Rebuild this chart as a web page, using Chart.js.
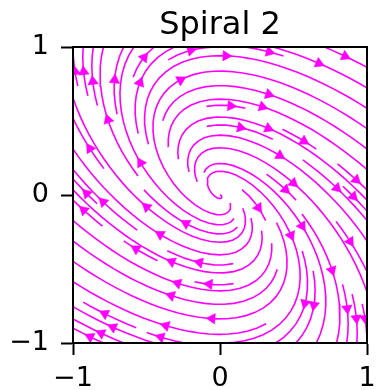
<!DOCTYPE html>
<html>
<head>
<meta charset="utf-8">
<script src="https://cdn.jsdelivr.net/npm/chart.js@4.4.1/dist/chart.umd.min.js"></script>
<style>
  html, body { margin: 0; padding: 0; background: #fff; }
  #wrap { width: 376px; height: 390px; }
</style>
</head>
<body>
<div id="wrap"><canvas id="chart" width="376" height="390"></canvas></div>
<script>
// Phase portrait "Spiral 2": dx/dt = x + y, dy/dt = -x  (streamplot style)
const titleText = 'Spiral 2';
const fieldMatrix = [[1, 1], [-1, 0]];
const xLimits = [-1, 1];
const yLimits = [-1, 1];
const tickValues = [-1, 0, 1];
const lineColor = '#ff00ff';

// streamplot settings (matplotlib defaults)
const density = 1;
const minLength = 0.1;
const maxLength = 4.0;

const spanX = xLimits[1] - xLimits[0];
const spanY = yLimits[1] - yLimits[0];

function velocity(x, y) {
    return [
        fieldMatrix[0][0] * x + fieldMatrix[0][1] * y,
        fieldMatrix[1][0] * x + fieldMatrix[1][1] * y
    ];
}

function within(ax, ay) {
    return ax >= 0 && ax <= 1 && ay >= 0 && ay <= 1;
}

// unit-speed direction in axes coordinates
function forward(ax, ay) {
    if (!within(ax, ay)) throw 'out';
    const v = velocity(xLimits[0] + ax * spanX, yLimits[0] + ay * spanY);
    const ua = v[0] / spanX, va = v[1] / spanY;
    const sp = Math.hypot(ua, va);
    if (sp === 0) throw 'term';
    return [ua / sp, va / sp];
}

// occupancy mask
const NX = Math.floor(30 * density), NY = NX;
const mask = new Uint8Array(NX * NY);
let currentXY = null;
let traj = [];

function roundHalfEven(v) {
    const r = Math.round(v);
    return (Math.abs(v % 1) === 0.5 && r % 2 !== 0) ? r - 1 : r;
}
function grid2mask(ax, ay) {
    return [roundHalfEven(ax * (NX - 1)), roundHalfEven(ay * (NY - 1))];
}
function maskUpdate(xm, ym) {
    if (!currentXY || currentXY[0] !== xm || currentXY[1] !== ym) {
        if (mask[ym * NX + xm] === 0) {
            traj.push(ym * NX + xm);
            mask[ym * NX + xm] = 1;
            currentXY = [xm, ym];
        } else {
            throw 'invalid';
        }
    }
}
function startTrajectory(ax, ay) {
    traj = [];
    const m = grid2mask(ax, ay);
    maskUpdate(m[0], m[1]);
}
function updateTrajectory(ax, ay) {
    if (!within(ax, ay)) throw 'invalid';
    const m = grid2mask(ax, ay);
    maskUpdate(m[0], m[1]);
}
function undoTrajectory() {
    for (const k of traj) mask[k] = 0;
}

function eulerStep(pts, g) {
    const last = pts[pts.length - 1];
    const c = g(last[0], last[1]);
    let dsx = Infinity, dsy = Infinity;
    if (c[0] < 0) dsx = last[0] / -c[0]; else if (c[0] > 0) dsx = (1 - last[0]) / c[0];
    if (c[1] < 0) dsy = last[1] / -c[1]; else if (c[1] > 0) dsy = (1 - last[1]) / c[1];
    const ds = Math.min(dsx, dsy);
    pts.push([last[0] + c[0] * ds, last[1] + c[1] * ds]);
    return ds;
}

function integrateRK12(x0, y0, dir) {
    const maxerror = 0.003;
    const maxds = Math.min(1 / NX, 1 / NY, 0.1);
    const g = (x, y) => { const v = forward(x, y); return [dir * v[0], dir * v[1]]; };
    let ds = maxds, stotal = 0, xi = x0, yi = y0;
    const pts = [];
    while (true) {
        let k1, k2;
        try {
            if (within(xi, yi)) pts.push([xi, yi]); else throw 'out';
            k1 = g(xi, yi);
            k2 = g(xi + ds * k1[0], yi + ds * k1[1]);
        } catch (e) {
            if (e === 'out' && pts.length) stotal += eulerStep(pts, g);
            break;
        }
        const dx1 = ds * k1[0], dy1 = ds * k1[1];
        const dx2 = ds * 0.5 * (k1[0] + k2[0]), dy2 = ds * 0.5 * (k1[1] + k2[1]);
        const error = Math.hypot(dx2 - dx1, dy2 - dy1);
        if (error < maxerror) {
            xi += dx2;
            yi += dy2;
            try { updateTrajectory(xi, yi); } catch (e) { break; }
            if (stotal + ds > maxLength) break;
            stotal += ds;
        }
        ds = error === 0 ? maxds : Math.min(maxds, 0.85 * ds * Math.sqrt(maxerror / error));
    }
    return [stotal, pts];
}

function integrate(x0, y0) {
    try { startTrajectory(x0, y0); } catch (e) { return null; }
    let stotal = 0;
    let res = integrateRK12(x0, y0, -1);
    stotal += res[0];
    let xy = res[1].slice().reverse();
    currentXY = grid2mask(x0, y0);
    res = integrateRK12(x0, y0, 1);
    stotal += res[0];
    xy = xy.concat(res[1].slice(1));
    if (stotal > minLength) return xy;
    undoTrajectory();
    return null;
}

// seeds: spiral in from the boundary, like matplotlib
function* startingPoints() {
    let xfirst = 0, yfirst = 1, xlast = NX - 1, ylast = NY - 1;
    let x = 0, y = 0, direction = 'right';
    for (let i = 0; i < NX * NY; i++) {
        yield [x, y];
        if (direction === 'right') {
            x += 1;
            if (x >= xlast) { xlast -= 1; direction = 'up'; }
        } else if (direction === 'up') {
            y += 1;
            if (y >= ylast) { ylast -= 1; direction = 'left'; }
        } else if (direction === 'left') {
            x -= 1;
            if (x <= xfirst) { xfirst += 1; direction = 'down'; }
        } else {
            y -= 1;
            if (y <= yfirst) { yfirst += 1; direction = 'right'; }
        }
    }
}

const trajectories = [];
for (const [xm, ym] of startingPoints()) {
    if (mask[ym * NX + xm] === 0) {
        const t = integrate(xm / (NX - 1), ym / (NY - 1));
        if (t) trajectories.push(t);
    }
}

// to data coordinates + arrow at half length
const lineSets = [];
const arrowPoints = [];
const arrowAngles = [];
for (const t of trajectories) {
    const pts = t.map(p => ({ x: xLimits[0] + p[0] * spanX, y: yLimits[0] + p[1] * spanY }));
    lineSets.push({
        data: pts,
        showLine: true,
        borderColor: lineColor,
        borderWidth: 1.6,
        pointRadius: 0,
        tension: 0
    });
    const cum = [];
    let s = 0;
    for (let i = 1; i < pts.length; i++) {
        s += Math.hypot(pts[i].x - pts[i - 1].x, pts[i].y - pts[i - 1].y);
        cum.push(s);
    }
    let n = 0;
    while (n < cum.length && cum[n] < s / 2) n++;
    if (n + 1 >= pts.length) continue;
    const a = pts[n], b = pts[n + 1];
    arrowPoints.push({ x: (a.x + b.x) / 2, y: (a.y + b.y) / 2 });
    arrowAngles.push(Math.atan2(b.x - a.x, b.y - a.y) * 180 / Math.PI);
}

const fmt = v => (v < 0 ? '\u2212' + Math.abs(v) : String(v));
const tickFont = { family: 'DejaVu Sans', size: 27 };

const frameBox = {
    id: 'frameBox',
    afterDatasetsDraw(chart) {
        const a = chart.chartArea, ctx = chart.ctx;
        ctx.save();
        ctx.strokeStyle = '#000';
        ctx.lineWidth = 2;
        ctx.strokeRect(a.left, a.top, a.right - a.left, a.bottom - a.top);
        ctx.restore();
    }
};

new Chart(document.getElementById('chart'), {
    type: 'scatter',
    data: {
        datasets: [{
            data: arrowPoints,
            order: -1,
            pointStyle: 'triangle',
            pointRadius: 6,
            pointRotation: arrowAngles,
            backgroundColor: lineColor,
            borderColor: lineColor,
            borderWidth: 0.5
        }].concat(lineSets)
    },
    options: {
        responsive: false,
        animation: false,
        devicePixelRatio: 1,
        events: [],
        layout: { padding: { left: 0, right: 0, top: 0, bottom: 0 } },
        plugins: {
            legend: { display: false },
            tooltip: { enabled: false },
            title: {
                display: true,
                fullSize: false,
                text: titleText,
                color: '#000',
                font: { family: 'DejaVu Sans', size: 32, weight: 'normal' },
                padding: { top: 6.8, bottom: 1.8 }
            }
        },
        scales: {
            x: {
                type: 'linear',
                min: xLimits[0],
                max: xLimits[1],
                afterBuildTicks: axis => { axis.ticks = tickValues.map(v => ({ value: v })); },
                afterFit: axis => { axis.height = 47; axis.paddingRight = 9; },
                ticks: { callback: fmt, font: tickFont, color: '#000', padding: 8, maxRotation: 0, autoSkip: false },
                grid: { drawOnChartArea: false, drawTicks: true, tickLength: 12, tickWidth: 2, tickColor: '#000' },
                border: { display: true, color: '#000', width: 2 }
            },
            y: {
                type: 'linear',
                min: yLimits[0],
                max: yLimits[1],
                afterBuildTicks: axis => { axis.ticks = tickValues.map(v => ({ value: v })); },
                afterFit: axis => { axis.width = 73; },
                ticks: { callback: fmt, font: tickFont, color: '#000', padding: 12, autoSkip: false },
                grid: { drawOnChartArea: false, drawTicks: true, tickLength: 12, tickWidth: 2, tickColor: '#000' },
                border: { display: true, color: '#000', width: 2 }
            }
        }
    },
    plugins: [frameBox]
});
</script>
</body>
</html>
